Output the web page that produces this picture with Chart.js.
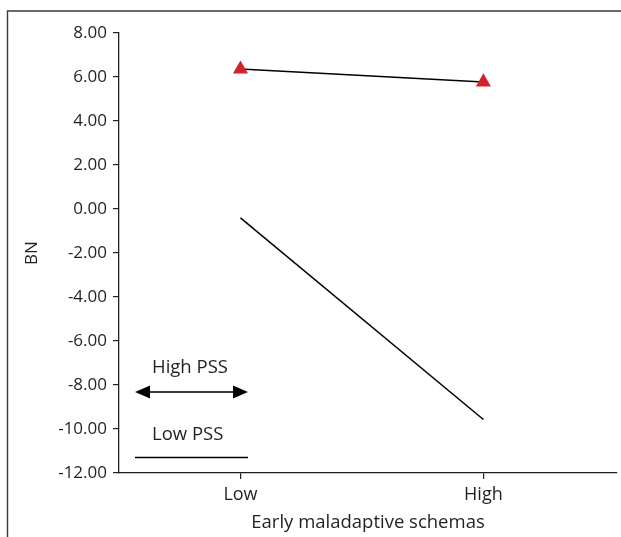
<!DOCTYPE html>
<html>
<head>
<meta charset="utf-8">
<script src="https://cdn.jsdelivr.net/npm/chart.js@4/dist/chart.umd.min.js"></script>
<style>
	html, body { margin: 0; padding: 0; background: #fff; }
	#wrap { position: relative; width: 621px; height: 537px; }
</style>
</head>
<body>
<div id="wrap"><canvas id="myChart"></canvas></div>
<script>
	const CATEGORIES = ["Low", "High"];
	const HIGH_PSS = [6.36, 5.77];
	const LOW_PSS = [-0.40, -9.57];
	const Y_TICKS = [8, 6, 4, 2, 0, -2, -4, -6, -8, -10, -12];

	const INK = "#231f20";
	const RED = "#d2232a";
	const FONT = "'Open Sans', sans-serif";

	function toPoints(arr) {
		return arr.map((v, i) => ({ x: i, y: v }));
	}

	// frame round the figure + the little key in the lower left
	const decor = {
		id: "decor",
		afterDraw(chart) {
			let ctx = chart.ctx;
			let a = chart.chartArea;
			ctx.save();

			ctx.strokeStyle = "#3a3a3a";
			ctx.lineWidth = 1.4;
			ctx.beginPath();
			ctx.moveTo(7.5, chart.height);
			ctx.lineTo(7.5, 11);
			ctx.lineTo(chart.width, 11);
			ctx.stroke();

			let x0 = a.left + 16, x1 = a.left + 129;
			ctx.fillStyle = INK;
			ctx.font = "18.5px " + FONT;
			ctx.textBaseline = "middle";
			ctx.fillText("High PSS", a.left + 33, 368);
			ctx.fillText("Low PSS", a.left + 33, 435);

			ctx.strokeStyle = "#000";
			ctx.lineWidth = 1.5;
			ctx.beginPath();
			ctx.moveTo(x0 + 8, 392);
			ctx.lineTo(x1 - 8, 392);
			ctx.moveTo(x0, 457.5);
			ctx.lineTo(x1, 457.5);
			ctx.stroke();

			ctx.fillStyle = "#000";
			ctx.beginPath();
			ctx.moveTo(x0, 392);
			ctx.lineTo(x0 + 15, 385.5);
			ctx.lineTo(x0 + 15, 398.5);
			ctx.closePath();
			ctx.moveTo(x1, 392);
			ctx.lineTo(x1 - 15, 385.5);
			ctx.lineTo(x1 - 15, 398.5);
			ctx.closePath();
			ctx.fill();

			ctx.restore();
		}
	};

	function createChart() {
		let ctx = document.getElementById("myChart");

		let data = {
			datasets: [{
				label: "High PSS",
				data: toPoints(HIGH_PSS),
				borderColor: "#000",
				borderWidth: 1.5,
				tension: 0,
				pointStyle: "triangle",
				pointRadius: 8.7,
				pointBackgroundColor: RED,
				pointBorderWidth: 0,
				fill: false
			}, {
				label: "Low PSS",
				data: toPoints(LOW_PSS),
				borderColor: "#000",
				borderWidth: 1.5,
				tension: 0,
				pointRadius: 0,
				fill: false
			}]
		};

		let options = {
			responsive: true,
			maintainAspectRatio: false,
			animation: false,
			layout: { autoPadding: false, padding: { top: 33, right: 4, left: 0, bottom: 0 } },
			plugins: {
				legend: { display: false },
				tooltip: { enabled: false }
			},
			scales: {
				x: {
					type: "linear",
					min: -0.5,
					max: 1.55,
					afterFit: s => { s.height = 64; s.paddingLeft = 0; s.paddingRight = 0; },
					afterBuildTicks: s => { s.ticks = CATEGORIES.map((c, i) => ({ value: i })); },
					ticks: {
						callback: v => CATEGORIES[v],
						color: INK,
						font: { family: FONT, size: 18 },
						padding: 5,
						maxRotation: 0
					},
					grid: { drawOnChartArea: false, drawTicks: true, tickLength: 6, color: INK, lineWidth: 1.2 },
					border: { display: true, color: INK, width: 1.3 },
					title: {
						display: true,
						text: "Early maladaptive schemas",
						color: INK,
						font: { family: FONT, size: 18.5 },
						padding: { top: 0, bottom: 3 }
					}
				},
				y: {
					min: -12,
					max: 8,
					afterFit: s => { s.width = 119; },
					afterBuildTicks: s => { s.ticks = Y_TICKS.map(v => ({ value: v })); },
					ticks: {
						callback: v => v.toFixed(2),
						color: INK,
						font: { family: FONT, size: 17 },
						padding: 6
					},
					grid: { drawOnChartArea: false, drawTicks: true, tickLength: 6, color: INK, lineWidth: 1.2 },
					border: { display: true, color: INK, width: 1.3 },
					title: {
						display: true,
						text: "BN",
						color: INK,
						font: { family: FONT, size: 17 },
						padding: { top: 22, bottom: 0 }
					}
				}
			}
		};

		return new Chart(ctx, { type: "line", data: data, options: options, plugins: [decor] });
	}

	window.chart = createChart();
</script>
</body>
</html>
